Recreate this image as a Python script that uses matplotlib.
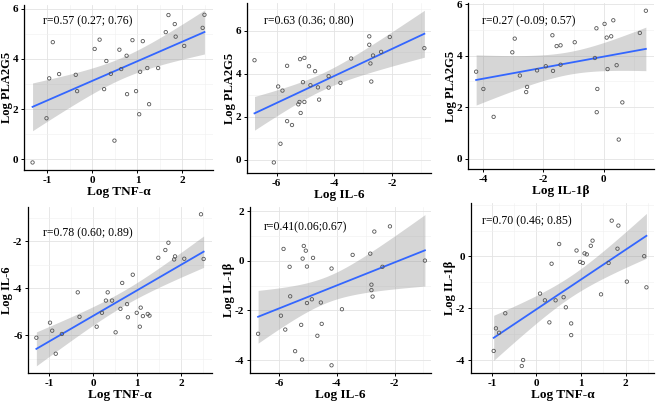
import numpy as np
import matplotlib
matplotlib.use('Agg')
import matplotlib.pyplot as plt
from matplotlib.ticker import MultipleLocator

plt.rcParams['font.family'] = ['Liberation Serif', 'DejaVu Serif']
plt.rcParams['axes.unicode_minus'] = False

# panel 1: TNF-a vs PLA2G5
x1 = [-1.33, -1.02, -0.96, -0.88, -0.74, -0.37, -0.34, 0.05, 0.16, 0.26, 0.31, 0.41, 0.49, 0.60, 0.64, 0.76,
      0.77, 0.89, 0.97, 1.04, 1.06, 1.12, 1.22, 1.26, 1.46, 1.63, 1.69, 1.83, 1.85, 2.04, 2.45, 2.49]
y1 = [-0.12, 1.64, 3.23, 4.67, 3.40, 3.37, 2.72, 4.40, 4.77, 2.80, 3.92, 3.41, 0.75, 4.37, 3.60, 4.13,
      2.60, 4.75, 2.72, 1.80, 3.49, 4.71, 3.64, 2.20, 3.64, 5.07, 5.75, 5.39, 4.89, 4.52, 5.24, 5.76]

# panel 2: IL-6 vs PLA2G5
x2 = [-6.77, -6.10, -5.95, -5.87, -5.80, -5.64, -5.64, -5.47, -5.25, -5.21, -5.19, -5.17, -5.09, -5.04, -5.04, -4.88,
      -4.83, -4.67, -4.57, -4.53, -4.20, -4.20, -3.79, -3.42, -2.79, -2.79, -2.75, -2.72, -2.66, -2.38, -2.08, -0.88]
y2 = [4.63, -0.12, 3.41, 0.75, 3.22, 4.37, 1.80, 1.62, 2.58, 2.69, 4.68, 2.18, 3.61, 4.74, 2.69, 4.35,
      3.47, 4.12, 3.37, 2.80, 3.89, 3.36, 3.58, 4.71, 5.74, 5.35, 4.48, 3.64, 4.85, 5.02, 5.71, 5.19]

# panel 3: IL-1b vs PLA2G5
x3 = [-4.23, -3.99, -3.65, -3.03, -2.95, -2.78, -2.57, -2.54, -2.21, -1.92, -1.70, -1.68, -1.56, -1.43, -1.43,
      -0.96, -0.29, -0.24, -0.23, -0.21, 0.03, 0.10, 0.13, 0.25, 0.32, 0.43, 0.50, 0.62, 1.20, 1.40]
y3 = [3.38, 2.71, 1.63, 4.13, 4.66, 3.23, 2.59, 2.79, 3.43, 3.59, 4.79, 3.41, 4.37, 4.40, 3.65,
      4.52, 3.91, 5.06, 1.81, 2.71, 5.23, 4.70, 3.48, 4.75, 5.37, 3.63, 0.75, 2.19, 4.88, 5.74]

# panel 4: TNF-a vs IL-6
x4 = [-1.29, -0.98, -0.93, -0.85, -0.71, -0.35, -0.31, 0.08, 0.20, 0.29, 0.33, 0.43, 0.51, 0.62, 0.66, 0.77,
      0.79, 0.90, 0.99, 1.06, 1.08, 1.13, 1.24, 1.28, 1.48, 1.64, 1.71, 1.84, 1.86, 2.07, 2.45, 2.51]
y4 = [-6.10, -5.46, -5.80, -6.78, -5.94, -4.17, -5.21, -5.63, -5.04, -4.52, -4.17, -4.52, -5.87, -4.87, -3.77, -4.67,
      -5.23, -3.42, -5.04, -5.63, -4.82, -5.18, -5.09, -5.16, -2.70, -2.37, -2.06, -2.77, -2.64, -2.74, -0.85, -2.75]

# panel 5: IL-6 vs IL-1b
x5 = [-6.72, -5.93, -5.84, -5.78, -5.63, -5.61, -5.44, -5.23, -5.20, -5.18, -5.14, -5.07, -5.03, -5.03, -4.86, -4.82,
      -4.67, -4.55, -4.52, -4.18, -4.18, -3.82, -3.45, -2.84, -2.80, -2.80, -2.76, -2.70, -2.42, -2.16, -0.95]
y5 = [-2.94, -2.21, 0.48, -2.77, -0.24, -1.43, -3.64, -2.58, -3.98, 0.09, 0.60, 0.41, -0.23, -1.70, -1.55, 0.12,
      -3.02, -1.68, -2.54, -0.31, -4.21, -1.95, 0.24, 0.29, -0.96, -1.18, -1.44, 1.18, -0.24, 1.39, 0.01]

# panel 6: TNF-a vs IL-1b
x6 = [-0.96, -0.91, -0.84, -0.70, -0.33, -0.30, 0.08, 0.19, 0.29, 0.34, 0.43, 0.51, 0.61, 0.66, 0.78, 0.78,
      0.90, 0.98, 1.04, 1.08, 1.13, 1.22, 1.26, 1.45, 1.62, 1.69, 1.82, 1.84, 2.03, 2.42, 2.47]
y6 = [-3.64, -2.77, -2.94, -2.19, -4.22, -3.99, -1.43, -1.69, -2.54, -0.28, -1.69, 0.48, -1.57, -1.96, -2.58, -3.03,
      0.23, -0.21, -0.25, 0.12, 0.08, 0.41, 0.61, -1.46, -0.25, 1.38, 0.30, 1.19, -0.97, 0.01, -1.19]

panels = [
    (x1, y1, 'Log TNF-\u03b1', 'Log PLA2G5', 'r=0.57 (0.27; 0.76)'),
    (x2, y2, 'Log IL-6', 'Log PLA2G5', 'r=0.63 (0.36; 0.80)'),
    (x3, y3, 'Log IL-1\u03b2', 'Log PLA2G5', 'r=0.27 (-0.09; 0.57)'),
    (x4, y4, 'Log TNF-\u03b1', 'Log IL-6', 'r=0.78 (0.60; 0.89)'),
    (x5, y5, 'Log IL-6', 'Log IL-1\u03b2', 'r=0.41(0.06;0.67)'),
    (x6, y6, 'Log TNF-\u03b1', 'Log IL-1\u03b2', 'r=0.70 (0.46; 0.85)'),
]

W, H = 656, 403
# axes boxes in pixels: left, right, top, bottom
boxes = [(24, 213, 5, 170), (247, 431, 3, 173), (468, 654, 3, 169),
         (28, 212, 207, 373), (250, 431, 207, 373), (471, 654, 203, 373)]
xlims = [(-1.52, 2.68), (-7.03, -0.65), (-4.50, 1.67), (-1.48, 2.70), (-7.0, -0.74), (-1.47, 2.64)]
ylims = [(-0.42, 6.15), (-0.61, 7.29), (-0.39, 6.04), (-7.60, -0.54), (-4.52, 2.17), (-4.49, 2.06)]
xticks = [[-1, 0, 1, 2], [-6, -4, -2], [-4, -2, 0], [-1, 0, 1, 2], [-6, -4, -2], [-1, 0, 1, 2]]
yticks = [[0, 2, 4, 6], [0, 2, 4, 6], [0, 2, 4, 6], [-6, -4, -2], [-4, -2, 0, 2], [-4, -2, 0]]
rpos = [(0.10, 0.90), (0.09, 0.895), (0.074, 0.89), (0.083, 0.84), (0.076, 0.88), (0.058, 0.89)]

fig = plt.figure(figsize=(W / 100, H / 100), dpi=100)

for i, (x, y, xl, yl, rt) in enumerate(panels):
    l, r, t, b = boxes[i]
    ax = fig.add_axes([l / W, (H - b) / H, (r - l) / W, (b - t) / H])
    x = np.array(x)
    y = np.array(y)

    # linear fit with 95% confidence band
    n = len(x)
    slope, icpt = np.polyfit(x, y, 1)
    resid = y - (slope * x + icpt)
    s = np.sqrt(np.sum(resid ** 2) / (n - 2))
    sxx = np.sum((x - x.mean()) ** 2)
    xs = np.linspace(x.min(), x.max(), 100)
    fit = slope * xs + icpt
    se = s * np.sqrt(1 / n + (xs - x.mean()) ** 2 / sxx)
    ax.fill_between(xs, fit - 2.04 * se, fit + 2.04 * se, color='#999999', alpha=0.4, lw=0, zorder=2)
    ax.plot(xs, fit, color='#3366FF', lw=1.3, zorder=3)
    ax.scatter(x, y, s=6, facecolors='none', edgecolors='#555555', linewidths=0.6, zorder=4)

    ax.set_xlim(xlims[i])
    ax.set_ylim(ylims[i])
    ax.set_xticks(xticks[i])
    ax.set_yticks(yticks[i])
    ax.xaxis.set_minor_locator(MultipleLocator(0.5 if i in (0, 3, 5) else 1))
    ax.yaxis.set_minor_locator(MultipleLocator(1))
    ax.grid(True, which='major', color='#e3e3e3', lw=0.6, zorder=0)
    ax.grid(True, which='minor', color='#f0f0f0', lw=0.4, zorder=0)
    ax.set_axisbelow(True)
    for sp in ['top', 'right']:
        ax.spines[sp].set_visible(False)
    for sp in ['left', 'bottom']:
        ax.spines[sp].set_linewidth(0.9)
    ax.tick_params(which='major', length=2.5, width=0.7, pad=1.5, labelsize=8)
    ax.tick_params(which='minor', length=0)
    for lab in ax.get_xticklabels() + ax.get_yticklabels():
        lab.set_fontweight('bold')
    ax.set_xlabel(xl, fontsize=9.5, fontweight='bold', labelpad=1)
    ax.set_ylabel(yl, fontsize=9, fontweight='bold', labelpad=0)
    ax.text(rpos[i][0], rpos[i][1], rt, transform=ax.transAxes, fontsize=8.5, va='center', ha='left')

fig.savefig('out.png', dpi=100)
